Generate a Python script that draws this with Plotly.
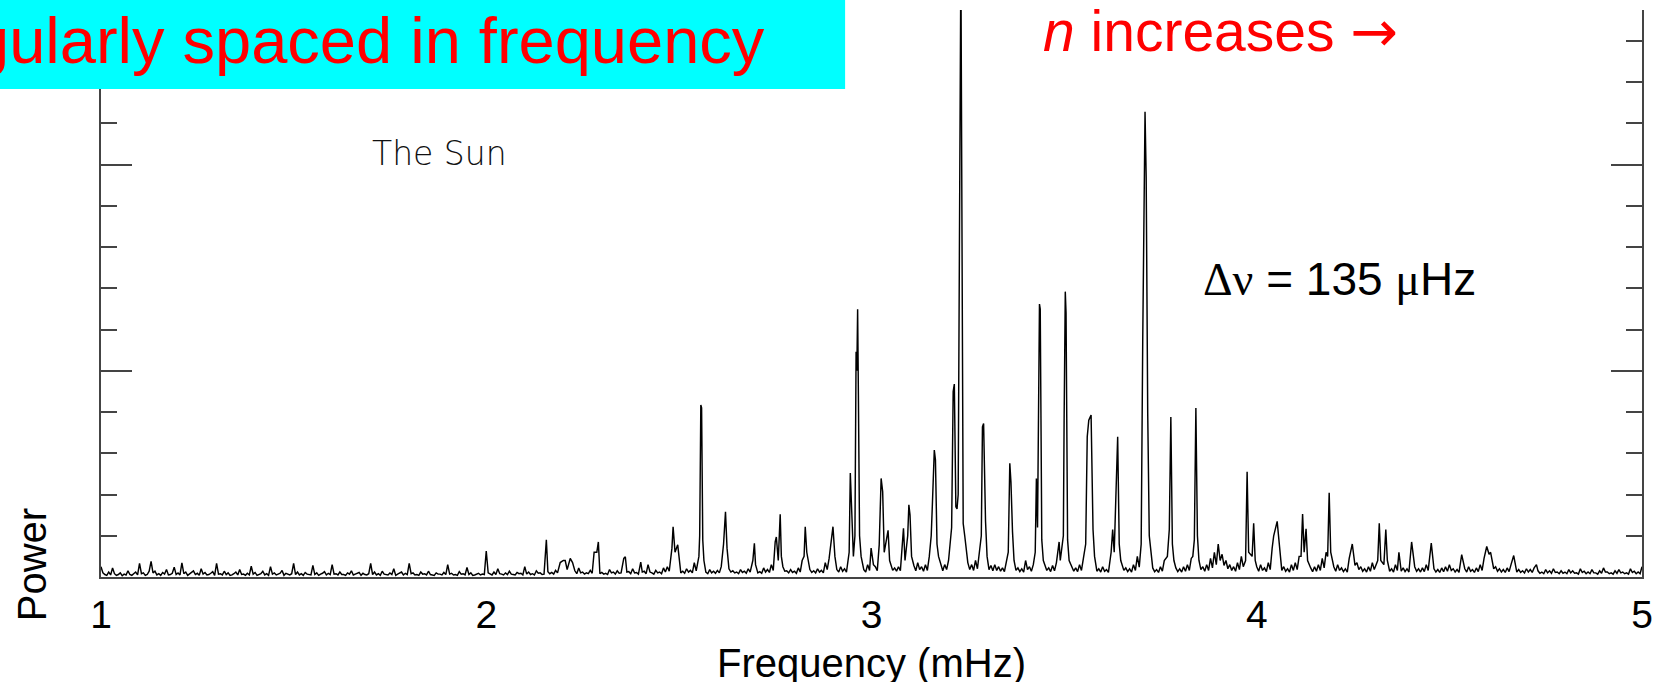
import numpy as np
import plotly.graph_objects as go

# ---------------- data ----------------
freq_start = 1.0      # mHz, first bin of the background spectrum
freq_step = 0.005     # mHz, bin spacing of the background spectrum

# background (noise) power, one value per 0.005 mHz from 1.000 to 5.000 mHz
noise_power = [
    0.25, 0.10, 0.06, 0.04, 0.12, 0.05, 0.22, 0.08, 0.04, 0.06, 0.10, 0.03, 0.07, 0.05, 0.15, 0.06, 0.04, 0.09, 0.12, 0.05,
    0.33, 0.08, 0.10, 0.04, 0.06, 0.14, 0.38, 0.10, 0.14, 0.05, 0.08, 0.04, 0.11, 0.07, 0.18, 0.05, 0.06, 0.09, 0.24, 0.06,
    0.10, 0.05, 0.34, 0.08, 0.12, 0.04, 0.07, 0.10, 0.15, 0.06, 0.09, 0.04, 0.20, 0.07, 0.11, 0.05, 0.06, 0.09, 0.13, 0.04,
    0.33, 0.07, 0.08, 0.05, 0.14, 0.06, 0.10, 0.04, 0.05, 0.08, 0.12, 0.05, 0.18, 0.06, 0.07, 0.04, 0.09, 0.05, 0.26, 0.07,
    0.11, 0.04, 0.06, 0.08, 0.14, 0.05, 0.08, 0.04, 0.25, 0.07, 0.10, 0.05, 0.07, 0.09, 0.16, 0.04, 0.09, 0.06, 0.05, 0.08,
    0.33, 0.06, 0.12, 0.05, 0.08, 0.04, 0.11, 0.07, 0.06, 0.05, 0.28, 0.06, 0.10, 0.04, 0.07, 0.09, 0.13, 0.05, 0.09, 0.06,
    0.30, 0.07, 0.08, 0.05, 0.12, 0.06, 0.06, 0.04, 0.10, 0.07, 0.15, 0.05, 0.07, 0.09, 0.11, 0.04, 0.09, 0.06, 0.05, 0.08,
    0.33, 0.06, 0.12, 0.05, 0.08, 0.04, 0.14, 0.07, 0.06, 0.05, 0.10, 0.06, 0.20, 0.04, 0.07, 0.09, 0.12, 0.05, 0.09, 0.06,
    0.33, 0.08, 0.10, 0.05, 0.06, 0.04, 0.12, 0.07, 0.08, 0.05, 0.14, 0.06, 0.05, 0.04, 0.10, 0.07, 0.07, 0.05, 0.11, 0.06,
    0.30, 0.07, 0.09, 0.05, 0.06, 0.04, 0.13, 0.07, 0.08, 0.05, 0.23, 0.06, 0.10, 0.04, 0.05, 0.08, 0.09, 0.05, 0.07, 0.06,
    0.63, 0.10, 0.08, 0.05, 0.12, 0.06, 0.20, 0.08, 0.07, 0.05, 0.10, 0.06, 0.14, 0.07, 0.06, 0.05, 0.11, 0.08, 0.09, 0.05,
    0.25, 0.07, 0.12, 0.06, 0.08, 0.05, 0.15, 0.09, 0.10, 0.06, 0.07, 0.05, 0.13, 0.08, 0.11, 0.07, 0.16, 0.10, 0.35, 0.12,
    0.40, 0.15, 0.18, 0.10, 0.45, 0.12, 0.15, 0.08, 0.22, 0.10, 0.12, 0.07, 0.10, 0.08, 0.16, 0.09, 0.60, 0.15, 0.14, 0.08,
    0.11, 0.07, 0.09, 0.06, 0.18, 0.10, 0.12, 0.07, 0.15, 0.09, 0.10, 0.06, 0.45, 0.12, 0.13, 0.08, 0.20, 0.10, 0.11, 0.07,
    0.36, 0.12, 0.14, 0.08, 0.30, 0.12, 0.10, 0.07, 0.16, 0.10, 0.12, 0.08, 0.22, 0.12, 0.25, 0.14, 0.60, 0.25, 0.30, 0.15,
    0.18, 0.10, 0.14, 0.09, 0.20, 0.12, 0.16, 0.10, 0.35, 0.15, 0.22, 0.12, 0.15, 0.10, 0.12, 0.08, 0.18, 0.10, 0.14, 0.09,
    0.16, 0.10, 0.25, 0.14, 0.40, 0.18, 0.20, 0.12, 0.15, 0.10, 0.12, 0.08, 0.18, 0.11, 0.14, 0.09, 0.20, 0.12, 0.35, 0.15,
    0.16, 0.10, 0.13, 0.09, 0.22, 0.12, 0.18, 0.11, 0.30, 0.16, 0.55, 0.25, 0.40, 0.20, 0.25, 0.14, 0.15, 0.10, 0.18, 0.11,
    0.14, 0.09, 0.22, 0.12, 0.40, 0.20, 0.30, 0.15, 0.18, 0.11, 0.15, 0.10, 0.20, 0.12, 0.16, 0.10, 0.35, 0.18, 0.45, 0.22,
    0.30, 0.16, 0.18, 0.12, 0.25, 0.14, 0.20, 0.12, 0.16, 0.10, 0.60, 0.25, 0.35, 0.18, 0.22, 0.14, 0.18, 0.12, 0.30, 0.16,
    0.70, 0.30, 0.25, 0.15, 0.45, 0.20, 0.35, 0.18, 0.60, 0.25, 0.30, 0.16, 0.22, 0.14, 0.25, 0.15, 0.40, 0.20, 0.30, 0.16,
    0.45, 0.22, 0.28, 0.15, 0.35, 0.18, 0.25, 0.14, 0.30, 0.16, 0.50, 0.25, 0.70, 0.30, 0.35, 0.18, 0.28, 0.15, 0.30, 0.18,
    0.40, 0.20, 0.80, 0.35, 1.00, 0.45, 0.60, 0.30, 0.45, 0.22, 0.35, 0.18, 0.30, 0.16, 0.40, 0.20, 0.55, 0.25, 0.70, 0.30,
    0.35, 0.18, 0.28, 0.15, 0.30, 0.16, 0.25, 0.14, 0.22, 0.13, 0.40, 0.20, 0.60, 0.25, 0.30, 0.16, 0.22, 0.13, 0.20, 0.12,
    0.40, 0.18, 0.25, 0.14, 0.30, 0.16, 0.70, 0.30, 0.80, 0.35, 0.30, 0.16, 0.22, 0.13, 0.28, 0.15, 0.35, 0.18, 0.60, 0.28,
    0.50, 0.22, 0.28, 0.15, 0.25, 0.14, 0.22, 0.13, 0.30, 0.16, 0.45, 0.22, 0.70, 0.30, 0.35, 0.18, 0.25, 0.14, 0.20, 0.12,
    0.25, 0.14, 0.18, 0.11, 0.40, 0.20, 0.60, 0.28, 0.45, 0.22, 0.30, 0.16, 0.22, 0.13, 0.20, 0.12, 0.30, 0.16, 0.50, 0.24,
    0.70, 0.30, 0.40, 0.20, 0.25, 0.14, 0.22, 0.13, 0.18, 0.11, 0.25, 0.14, 0.40, 0.20, 0.55, 0.25, 0.30, 0.16, 0.22, 0.13,
    0.20, 0.12, 0.25, 0.14, 0.30, 0.16, 0.45, 0.22, 0.70, 0.30, 0.35, 0.18, 0.25, 0.14, 0.30, 0.16, 0.45, 0.22, 0.60, 0.30,
    0.80, 0.40, 0.55, 0.28, 0.40, 0.20, 0.30, 0.16, 0.25, 0.14, 0.35, 0.18, 0.50, 0.25, 0.45, 0.22, 0.30, 0.16, 0.35, 0.18,
    0.25, 0.14, 0.30, 0.16, 0.22, 0.13, 0.35, 0.18, 0.70, 0.30, 0.50, 0.25, 0.30, 0.16, 0.25, 0.14, 0.20, 0.12, 0.30, 0.16,
    0.35, 0.18, 0.50, 0.24, 0.40, 0.20, 0.28, 0.15, 0.22, 0.13, 0.25, 0.14, 0.30, 0.16, 0.45, 0.22, 0.60, 0.28, 0.35, 0.18,
    0.25, 0.14, 0.30, 0.16, 0.22, 0.13, 0.20, 0.12, 0.45, 0.22, 0.60, 0.28, 0.35, 0.18, 0.25, 0.14, 0.20, 0.12, 0.25, 0.14,
    0.35, 0.18, 0.30, 0.16, 0.45, 0.22, 0.30, 0.16, 0.25, 0.14, 0.20, 0.12, 0.30, 0.16, 0.25, 0.14, 0.22, 0.13, 0.20, 0.12,
    0.30, 0.16, 0.25, 0.14, 0.20, 0.12, 0.22, 0.13, 0.30, 0.16, 0.25, 0.14, 0.20, 0.12, 0.18, 0.11, 0.22, 0.13, 0.25, 0.14,
    0.30, 0.16, 0.20, 0.12, 0.18, 0.11, 0.15, 0.10, 0.20, 0.12, 0.25, 0.14, 0.18, 0.11, 0.22, 0.13, 0.30, 0.16, 0.45, 0.22,
    0.60, 0.28, 0.40, 0.20, 0.25, 0.14, 0.20, 0.12, 0.18, 0.11, 0.22, 0.13, 0.30, 0.16, 0.20, 0.12, 0.18, 0.11, 0.15, 0.10,
    0.20, 0.12, 0.18, 0.11, 0.22, 0.13, 0.15, 0.09, 0.12, 0.08, 0.18, 0.10, 0.15, 0.09, 0.20, 0.11, 0.12, 0.08, 0.15, 0.09,
    0.12, 0.08, 0.18, 0.10, 0.15, 0.09, 0.10, 0.07, 0.20, 0.11, 0.14, 0.08, 0.12, 0.08, 0.18, 0.10, 0.10, 0.07, 0.15, 0.09,
    0.22, 0.12, 0.12, 0.08, 0.10, 0.07, 0.15, 0.09, 0.18, 0.10, 0.12, 0.08, 0.10, 0.07, 0.20, 0.11, 0.14, 0.08, 0.12, 0.08,
    0.25,
]

# p-mode peaks: frequency (mHz) and power of the points that outline each peak
peak_freq = [
    2.156,
    2.192, 2.205, 2.218, 2.224,
    2.287, 2.291,
    2.357, 2.361,
    2.401,
    2.482, 2.485, 2.490, 2.497,
    2.552, 2.554, 2.557, 2.559, 2.562, 2.565,
    2.616, 2.621, 2.625,
    2.692, 2.696, 2.699,
    2.750, 2.753, 2.758, 2.763, 2.766,
    2.825, 2.828, 2.832,
    2.896, 2.900, 2.905,
    2.942, 2.945, 2.949, 2.953, 2.957, 2.960, 2.962, 2.964, 2.966, 2.969, 2.973,
    2.999,
    3.020, 3.025, 3.029, 3.033, 3.040, 3.043, 3.047,
    3.083, 3.087, 3.094, 3.097, 3.100, 3.104,
    3.155, 3.158, 3.163, 3.166, 3.170, 3.174,
    3.208, 3.212, 3.215, 3.219, 3.222, 3.225, 3.229, 3.232, 3.235, 3.238, 3.242, 3.246,
    3.285, 3.288, 3.291, 3.296, 3.300,
    3.355, 3.359, 3.362, 3.366, 3.370,
    3.425, 3.428, 3.431, 3.436, 3.438, 3.442, 3.446,
    3.487, 3.490, 3.498, 3.500, 3.503, 3.505, 3.509, 3.513,
    3.556, 3.560, 3.564, 3.570, 3.575, 3.579,
    3.622, 3.626, 3.635, 3.639, 3.643, 3.647,
    3.700, 3.704, 3.710, 3.713, 3.717, 3.721, 3.726,
    3.768, 3.773, 3.777, 3.781, 3.785,
    3.834, 3.838, 3.842, 3.846, 3.850,
    3.971, 3.975, 3.979, 3.988, 3.992, 3.996,
    4.044, 4.053, 4.057, 4.061,
    4.115, 4.119, 4.123, 4.128, 4.132,
    4.184, 4.188, 4.192,
    4.248,
    4.314, 4.318, 4.322, 4.335, 4.339,
    4.369,
    4.402,
    4.453,
    4.532,
    4.597, 4.603, 4.607,
    4.667,
    4.726,
]
peak_power = [
    0.90,
    0.35, 0.40, 0.45, 0.35,
    0.60, 0.85,
    0.45, 0.49,
    0.36,
    0.70, 1.22, 0.60, 0.78,
    0.50, 1.00, 4.17, 4.10, 0.90, 0.40,
    0.80, 1.58, 0.70,
    0.40, 0.82, 0.30,
    0.85, 0.97, 0.40, 1.52, 0.50,
    0.50, 1.22, 0.60,
    0.97, 1.22, 0.50,
    0.60, 2.52, 1.30, 0.50, 1.00, 5.46, 5.00, 6.49, 4.41, 1.00, 0.50,
    0.70,
    0.78, 2.39, 2.07, 0.60, 1.05, 1.13, 0.40,
    1.18, 0.40, 1.00, 1.75, 1.50, 0.50,
    1.00, 1.75, 3.08, 2.84, 0.80, 0.50,
    1.20, 4.50, 4.68, 1.70, 1.65, 2.00, 11.57, 15.00, 8.10, 1.30, 1.00, 0.60,
    1.00, 3.64, 3.72, 1.35, 0.50,
    0.60, 2.76, 2.30, 1.10, 0.40,
    0.60, 2.39, 1.20, 6.62, 6.50, 0.90, 0.40,
    0.85, 0.40, 1.00, 3.85, 6.92, 6.40, 0.90, 0.40,
    0.80, 3.40, 3.80, 3.93, 1.15, 0.50,
    0.60, 1.15, 2.50, 3.40, 0.80, 0.40,
    0.80, 5.70, 11.28, 9.70, 3.97, 1.00, 0.50,
    0.50, 1.15, 3.88, 0.80, 0.40,
    0.50, 0.90, 4.10, 1.00, 0.40,
    0.40, 2.55, 0.60, 0.50, 1.30, 0.40,
    1.00, 1.35, 0.90, 0.40,
    0.50, 1.53, 0.60, 1.17, 0.40,
    0.50, 2.04, 0.60,
    0.80,
    0.40, 1.30, 0.40, 1.15, 0.40,
    0.60,
    0.85,
    0.82,
    0.54,
    0.74, 0.55, 0.60,
    0.52,
    0.30,
]

x_tick_vals = [1, 2, 3, 4, 5]
x_tick_text = ["1", "2", "3", "4", "5"]
x_range = [1, 5]
y_range = [0, 13.75]

# ---------------- build the spectrum ----------------
grid_f = freq_start + freq_step * np.arange(len(noise_power))
pf = np.array(peak_freq)
keep = np.array([np.min(np.abs(pf - f)) > 0.0031 for f in grid_f])
all_f = np.concatenate([grid_f[keep], pf])
all_p = np.concatenate([np.array(noise_power)[keep], np.array(peak_power)])
order = np.argsort(all_f)
all_f, all_p = all_f[order], all_p[order]

# ---------------- layout geometry (pixels) ----------------
W, H = 1663, 682
L, R, T, B = 101, 1648, 10, 577


def px_x(px):
    return (px - L) / (R - L)


def px_y(py):
    return (B - py) / (B - T)


fig = go.Figure()
fig.add_trace(go.Scatter(
    x=all_f, y=all_p, mode="lines",
    line=dict(color="black", width=1.45),
    hoverinfo="skip", showlegend=False,
))

axis_col = "#444444"
fig.update_layout(
    width=W, height=H,
    margin=dict(l=L, r=W - R, t=T, b=H - B),
    paper_bgcolor="white", plot_bgcolor="white",
    showlegend=False,
    font=dict(family="Liberation Sans, Arial, sans-serif", color="black"),
    xaxis=dict(
        range=x_range, tickvals=x_tick_vals, ticktext=x_tick_text,
        ticks="", showgrid=False, zeroline=False,
        showline=True, linecolor=axis_col, linewidth=1.5,
        tickfont=dict(size=39, color="black"),
        ticklabelstandoff=2,
    ),
    yaxis=dict(
        range=y_range, showgrid=False, zeroline=False,
        showline=True, linecolor=axis_col, linewidth=1.5, mirror="ticks",
        ticks="inside", tickvals=[5, 10], ticklen=31, tickwidth=1.5, tickcolor=axis_col,
        minor=dict(dtick=1, tick0=0, ticks="inside", ticklen=16, tickwidth=1.5, tickcolor=axis_col),
        showticklabels=False,
    ),
)

# cyan title box (partly outside the slide)
fig.add_shape(
    type="rect", xref="paper", yref="paper",
    x0=px_x(-5), x1=px_x(848), y0=px_y(89), y1=px_y(-5),
    fillcolor="#00FFFF", line=dict(width=0), layer="above",
)

SERIF = "font-family:Liberation Serif"
ARROW = "font-family:DejaVu Sans"
ann = []
ann.append(dict(
    text="gularly spaced in frequency", x=px_x(-30), y=px_y(40),
    xanchor="left", yanchor="middle",
    font=dict(size=65, color="#FF0000", family="Liberation Sans, Arial, sans-serif"),
))
ann.append(dict(
    text=f"<i>n</i> increases <span style=\"{ARROW}\">\u2192</span>", x=px_x(1045), y=px_y(31),
    xanchor="left", yanchor="middle",
    font=dict(size=57, color="#FF0000", family="Liberation Sans, Arial, sans-serif"),
))
ann.append(dict(
    text="The Sun", x=px_x(441), y=px_y(153),
    xanchor="center", yanchor="middle",
    font=dict(size=33, color="#111111", family="DejaVu Sans", weight=200),
))
ann.append(dict(
    text=f"<span style=\"{SERIF}\">\u0394\u03bd</span> = 135 <span style=\"{SERIF}\">\u03bc</span>Hz",
    x=px_x(1205), y=px_y(279),
    xanchor="left", yanchor="middle",
    font=dict(size=46, color="black", family="Liberation Sans, Arial, sans-serif"),
))
ann.append(dict(
    text="Power", x=px_x(32), y=px_y(565), textangle=-90,
    xanchor="center", yanchor="middle",
    font=dict(size=40, color="black", family="Liberation Sans, Arial, sans-serif"),
))
ann.append(dict(
    text="Frequency (mHz)", x=px_x(875), y=px_y(663),
    xanchor="center", yanchor="middle",
    font=dict(size=40, color="black", family="Liberation Sans, Arial, sans-serif"),
))
for a in ann:
    a.update(xref="paper", yref="paper", showarrow=False)
fig.update_layout(annotations=ann)

fig.write_html(
    "out.html",
    config={"displayModeBar": False},
    post_script="document.body.style.margin='0';document.body.style.overflow='hidden';",
)
